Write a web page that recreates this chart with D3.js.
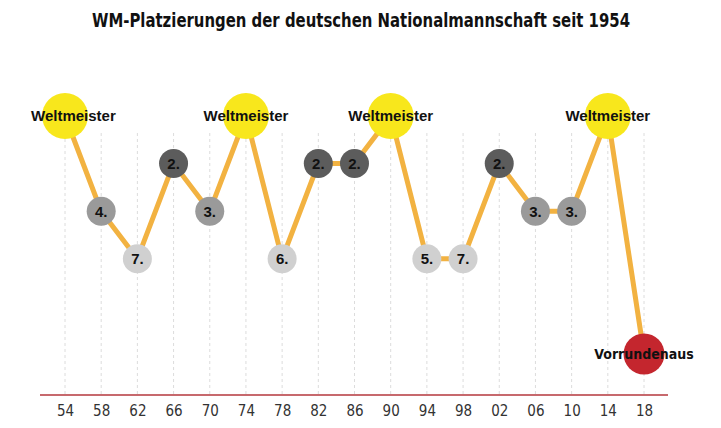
<!DOCTYPE html>
<html lang="de">
<head>
    <meta charset="UTF-8">
    <title>WM-Platzierungen</title>
    <script src="https://d3js.org/d3.v7.min.js"></script>
    <style>
        body { margin: 0; background: #fff; }
        .title { font: bold 19px "DejaVu Sans", sans-serif; font-stretch: condensed; fill: #111; }
        .tick-label { font: 15px "DejaVu Sans", sans-serif; font-stretch: condensed; fill: #333; }
        .rank { font: bold 15px "Liberation Sans", Arial, sans-serif; fill: #111; }
        .big-label { font: bold 15px "Liberation Sans", Arial, sans-serif; fill: #111; }
        .out-label { font: bold 14px "DejaVu Sans", sans-serif; font-stretch: condensed; fill: #111; }
    </style>
</head>
<body>
    <svg width="721" height="428"></svg>
    <script>
        // Turniere seit 1954
        const years = [1954, 1958, 1962, 1966, 1970, 1974, 1978, 1982, 1986, 1990, 1994, 1998, 2002, 2006, 2010, 2014, 2018];
        const yearLabels = ["54", "58", "62", "66", "70", "74", "78", "82", "86", "90", "94", "98", "02", "06", "10", "14", "18"];
        // Platzierung als Text
        const placements = ["Weltmeister", "4.", "7.", "2.", "3.", "Weltmeister", "6.", "2.", "2.", "Weltmeister", "5.", "7.", "2.", "3.", "3.", "Weltmeister", "Vorrundenaus"];
        // erreichte Runde
        const stages = ["Weltmeister", "Finale", "Halbfinale", "Viertelfinale", "Achtelfinale", "Vorrunde"];
        const reached = ["Weltmeister", "Halbfinale", "Viertelfinale", "Finale", "Halbfinale", "Weltmeister", "Viertelfinale", "Finale", "Finale", "Weltmeister", "Viertelfinale", "Viertelfinale", "Finale", "Halbfinale", "Halbfinale", "Weltmeister", "Vorrunde"];

        const data = years.map((y, i) => ({ year: y, label: placements[i], stage: reached[i] }));

        const svg = d3.select("svg");

        const x = d3.scalePoint().domain(years).range([65, 644]);
        const y = d3.scalePoint().domain(stages).range([116, 354]);

        const fill = {
            "Weltmeister": "#f8e71c",
            "Finale": "#5c5c5c",
            "Halbfinale": "#9a9a9a",
            "Viertelfinale": "#d0d0d0",
            "Vorrunde": "#c4262e"
        };
        const radius = d => d.stage === "Weltmeister" ? 23 : d.stage === "Vorrunde" ? 20.5 : 14.5;

        svg.append("text")
            .attr("class", "title")
            .attr("x", 361)
            .attr("y", 27)
            .attr("text-anchor", "middle")
            .attr("textLength", 538)
            .attr("lengthAdjust", "spacingAndGlyphs")
            .text("WM-Platzierungen der deutschen Nationalmannschaft seit 1954");

        // gestrichelte Hilfslinien
        svg.append("g").selectAll("line")
            .data(years)
            .join("line")
            .attr("x1", d => x(d)).attr("x2", d => x(d))
            .attr("y1", 133).attr("y2", 395)
            .attr("stroke", "#dcdcdc")
            .attr("stroke-width", 1)
            .attr("stroke-dasharray", "3,3");

        // Achse
        const xAxis = d3.axisBottom(x).tickSize(0).tickPadding(10)
            .tickFormat((d, i) => yearLabels[i]);
        const axisG = svg.append("g")
            .attr("transform", "translate(0,395)")
            .call(xAxis);
        axisG.select(".domain").remove();
        axisG.selectAll("text").attr("class", "tick-label").attr("fill", null);
        svg.append("line")
            .attr("x1", 40).attr("x2", 668)
            .attr("y1", 395).attr("y2", 395)
            .attr("stroke", "#b5373d")
            .attr("stroke-width", 1.5);

        const line = d3.line()
            .x(d => x(d.year))
            .y(d => y(d.stage));

        svg.append("path")
            .datum(data)
            .attr("d", line)
            .attr("fill", "none")
            .attr("stroke", "#f2b241")
            .attr("stroke-width", 5);

        const nodes = svg.append("g").selectAll("g")
            .data(data)
            .join("g")
            .attr("transform", d => `translate(${x(d.year)},${y(d.stage)})`);

        nodes.append("circle")
            .attr("r", radius)
            .attr("fill", d => fill[d.stage]);

        nodes.append("text")
            .attr("class", d => d.stage === "Weltmeister" ? "big-label" : d.stage === "Vorrunde" ? "out-label" : "rank")
            .attr("text-anchor", "middle")
            .attr("dy", "0.36em")
            .text(d => d.label)
            .each(function(d) {
                // Beschriftung nicht über den linken Rand hinaus
                const w = this.getComputedTextLength();
                const left = x(d.year) - w / 2;
                if (left < 31) d3.select(this).attr("dx", 31 - left);
            });
    </script>
</body>
</html>
